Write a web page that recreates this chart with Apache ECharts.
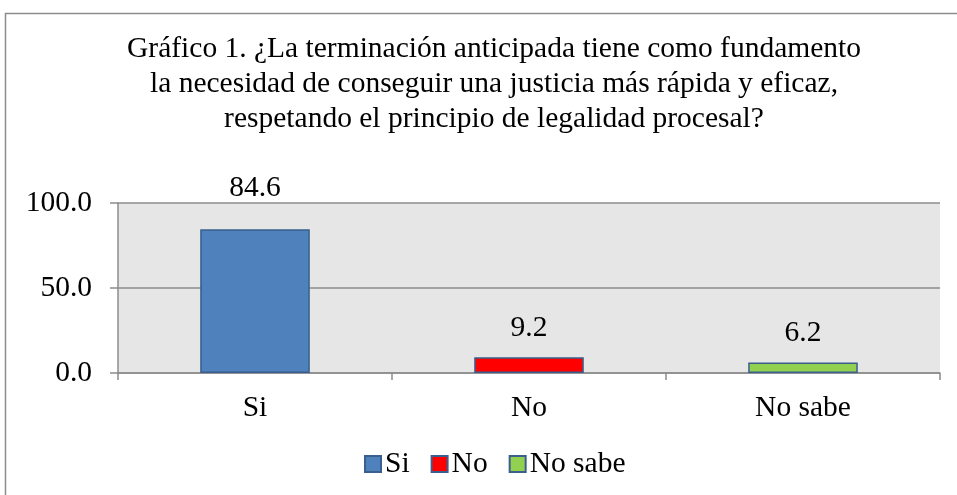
<!DOCTYPE html>
<html>
<head>
<meta charset="utf-8">
<script src="https://cdn.jsdelivr.net/npm/echarts@6/dist/echarts.min.js"></script>
<style>
    html, body { margin: 0; padding: 0; background: #fff; }
    #chart { width: 957px; height: 495px; }
</style>
</head>
<body>
<div id="chart"></div>
<script>
    // datos del gráfico
    var categories = ['Si', 'No', 'No sabe'];
    var values = [84.6, 9.2, 6.2];
    var colors = ['#4F81BD', '#FF0000', '#92D050'];
    var yTicks = [0, 50, 100];

    var FONT = '"Liberation Serif", "Times New Roman", serif';
    var FS = 29.5;

    var myChart = echarts.init(document.getElementById('chart'));

    // una serie por categoría para que la leyenda tenga tres entradas
    var series = categories.map(function (name, i) {
        var data = categories.map(function (c, j) { return j === i ? values[i] : '-'; });
        return {
            name: name,
            type: 'bar',
            stack: 'total',
            barWidth: '40%',
            data: data,
            itemStyle: {
                color: colors[i],
                borderColor: '#3A5F8C',
                borderWidth: 1.5
            },
            label: {
                show: true,
                position: 'top',
                distance: i === 0 ? 26 : 14,
                fontFamily: FONT,
                fontSize: FS,
                color: '#000',
                formatter: function (p) { return p.value.toFixed(1); }
            }
        };
    });

    var option = {
        animation: false,
        backgroundColor: '#fff',
        title: {
            text: 'Gráfico 1. ¿La terminación anticipada tiene como fundamento\nla necesidad de conseguir una justicia más rápida y eficaz,\nrespetando el principio de legalidad procesal?',
            left: 489,
            top: 27,
            textAlign: 'center',
            textStyle: {
                fontFamily: FONT,
                fontSize: FS,
                fontWeight: 'normal',
                color: '#000',
                lineHeight: 35
            }
        },
        graphic: [{
            type: 'rect',
            shape: { x: 5.5, y: 13.5, width: 1000, height: 1000 },
            style: { fill: null, stroke: '#8C8C8C', lineWidth: 1.5 },
            silent: true
        }],
        legend: {
            data: categories,
            left: 359,
            top: 444,
            itemWidth: 16,
            itemHeight: 16,
            itemGap: 21,
            icon: 'rect',
            textStyle: { fontFamily: FONT, fontSize: FS, color: '#000', padding: [0, 0, 0, -1] }
        },
        grid: {
            left: 118,
            right: 17,
            top: 203,
            bottom: 122,
            show: true,
            backgroundColor: '#E6E6E6',
            borderWidth: 0
        },
        xAxis: {
            type: 'category',
            data: categories,
            axisLine: { lineStyle: { color: '#8C8C8C', width: 1.5 } },
            axisTick: { show: true, length: 7, lineStyle: { color: '#8C8C8C', width: 1.5 } },
            axisLabel: { margin: 20, fontFamily: FONT, fontSize: FS, color: '#000' }
        },
        yAxis: {
            type: 'value',
            min: yTicks[0],
            max: yTicks[yTicks.length - 1],
            interval: 50,
            axisLine: { show: true, lineStyle: { color: '#8C8C8C', width: 1.5 } },
            axisTick: { show: true, length: 8, lineStyle: { color: '#8C8C8C', width: 1.5 } },
            splitLine: { show: true, lineStyle: { color: '#8C8C8C', width: 1.5 } },
            axisLabel: {
                margin: 26,
                fontFamily: FONT,
                fontSize: FS,
                color: '#000',
                formatter: function (v) { return v.toFixed(1); }
            }
        },
        series: series
    };

    myChart.setOption(option);
</script>
</body>
</html>
